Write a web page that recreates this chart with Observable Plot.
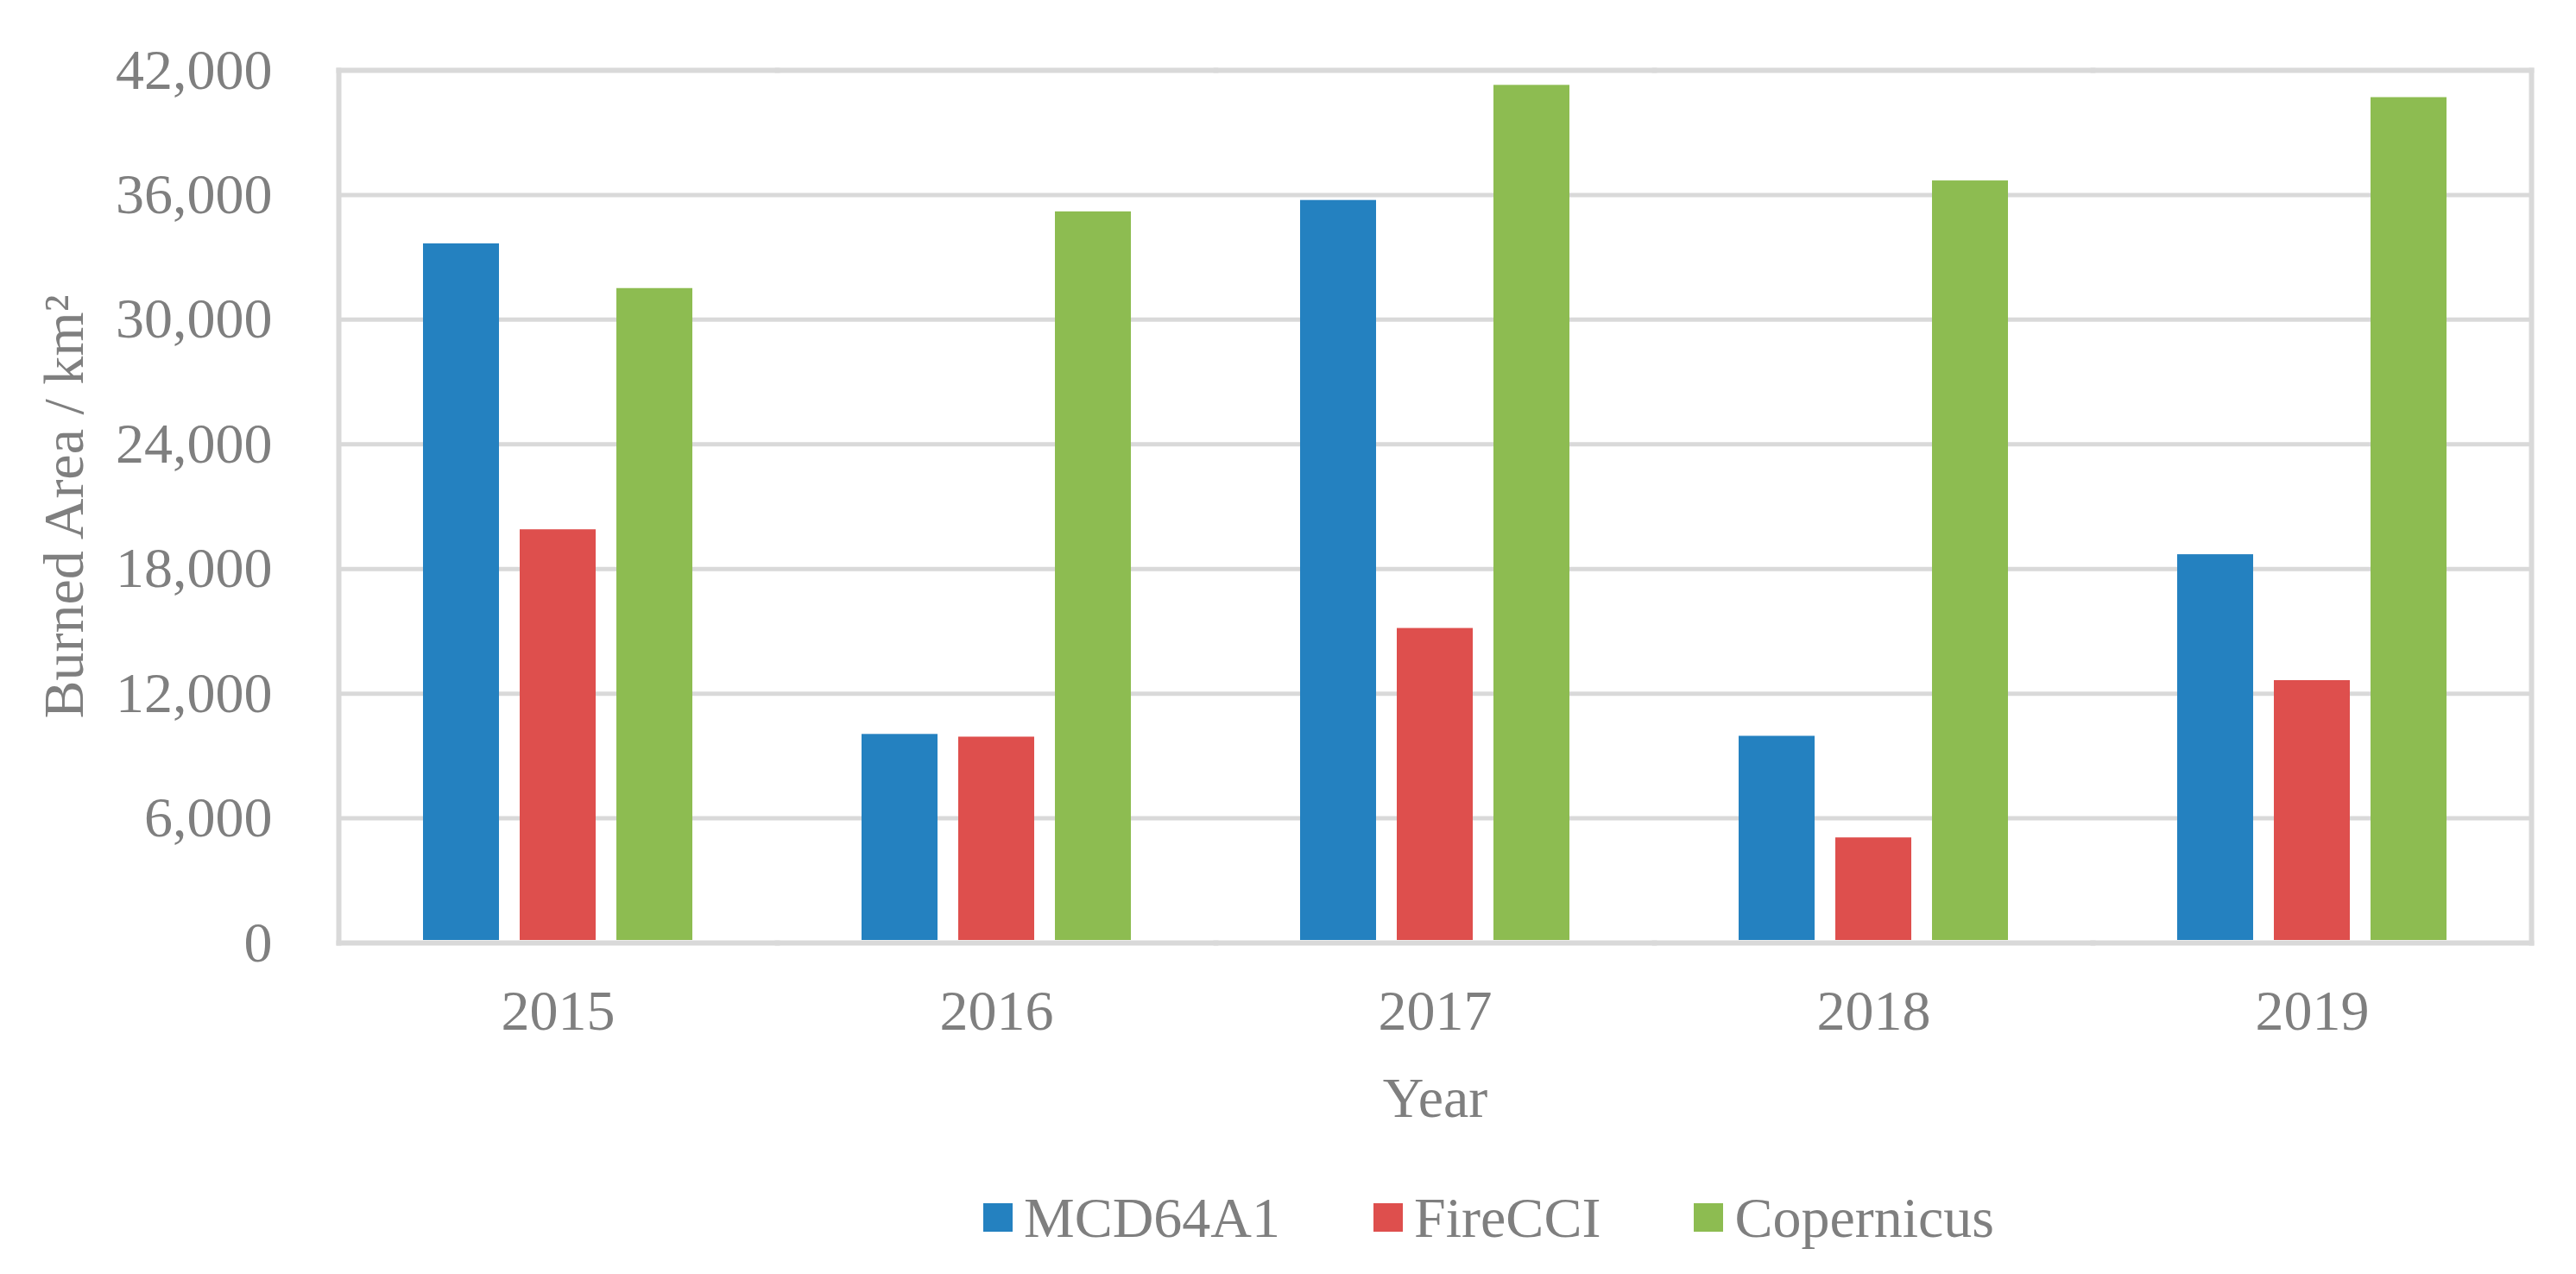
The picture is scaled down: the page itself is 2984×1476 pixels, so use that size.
<!DOCTYPE html>
<html>
<head>
<meta charset="utf-8">
<script src="https://cdn.jsdelivr.net/npm/d3@7"></script>
<script src="https://cdn.jsdelivr.net/npm/@observablehq/plot@0.6"></script>
<style>
  html, body { margin: 0; padding: 0; background: #ffffff; }
  #wrap { position: relative; width: 2984px; height: 1476px; background: #ffffff; font-family: "Liberation Serif", "Times New Roman", serif; color: #7f7f7f; }
  #legend { position: absolute; top: 1374px; left: 1139px; display: flex; align-items: center; height: 73px; font-size: 66px; line-height: 73px; gap: 108px; }
  .item { display: flex; align-items: center; }
  .sw { width: 34px; height: 33px; margin-right: 13px; }
</style>
</head>
<body>
<div id="wrap"></div>
<script>
// ---- data ----
const years = ["2015", "2016", "2017", "2018", "2019"];
const series = ["MCD64A1", "FireCCI", "Copernicus"];
const mcd64a1 = [33650, 10040, 35740, 9950, 18690];
const fireCCI = [19890, 9910, 15140, 5060, 12630];
const copernicus = [31500, 35190, 41280, 36680, 40690];
const yTicks = [0, 6000, 12000, 18000, 24000, 30000, 36000, 42000];
const colors = ["#2481c0", "#de4f4d", "#8dbc51"];
const yLabel = "Burned Area / km\u00b2";
const xLabel = "Year";

const valuesBySeries = [mcd64a1, fireCCI, copernicus];
const rows = [];
years.forEach((yr, i) => series.forEach((s, j) => rows.push({year: yr, series: s, value: valuesBySeries[j][i]})));

const grey = "#d9d9d9";
const W = 2984, H = 1330;

const chart = Plot.plot({
  width: W,
  height: H,
  marginLeft: 390,
  marginRight: 51,
  marginTop: 81,
  marginBottom: 238,
  style: {fontFamily: "Liberation Serif, Times New Roman, serif", fontSize: "66px", color: "#7f7f7f", background: "#ffffff", overflow: "visible"},
  fx: {domain: years, padding: 0},
  x: {domain: series, paddingInner: 0.2124, paddingOuter: 0.857, axis: null},
  y: {domain: [0, 42000]},
  color: {domain: series, range: colors},
  marks: [
    Plot.gridY(yTicks, {stroke: grey, strokeOpacity: 1, strokeWidth: 5}),
    Plot.frame({anchor: "top", stroke: grey, strokeOpacity: 1, strokeWidth: 6}),
    Plot.frame({anchor: "bottom", stroke: grey, strokeOpacity: 1, strokeWidth: 6}),
    Plot.frame({anchor: "left", facetAnchor: "left", stroke: grey, strokeOpacity: 1, strokeWidth: 6}),
    Plot.frame({anchor: "right", facetAnchor: "right", stroke: grey, strokeOpacity: 1, strokeWidth: 6}),
    Plot.barY(rows, {fx: "year", x: "series", y: "value", fill: "series", insetBottom: 3}),
    Plot.axisY({ticks: yTicks, tickFormat: d3.format(",d"), tickSize: 0, tickPadding: 77, label: yLabel, labelAnchor: "center", labelOffset: 343, labelArrow: "none"}),
    Plot.axisFx({anchor: "bottom", tickSize: 0, tickPadding: 54, label: xLabel, labelAnchor: "center", labelOffset: 201, labelArrow: "none"})
  ]
});

const wrap = document.getElementById("wrap");
wrap.appendChild(chart);

// legend below the chart
const legend = document.createElement("div");
legend.id = "legend";
series.forEach((s, j) => {
  const item = document.createElement("div");
  item.className = "item";
  const sw = document.createElement("div");
  sw.className = "sw";
  sw.style.background = colors[j];
  const t = document.createElement("span");
  t.textContent = s;
  item.appendChild(sw);
  item.appendChild(t);
  legend.appendChild(item);
});
wrap.appendChild(legend);
</script>
</body>
</html>
